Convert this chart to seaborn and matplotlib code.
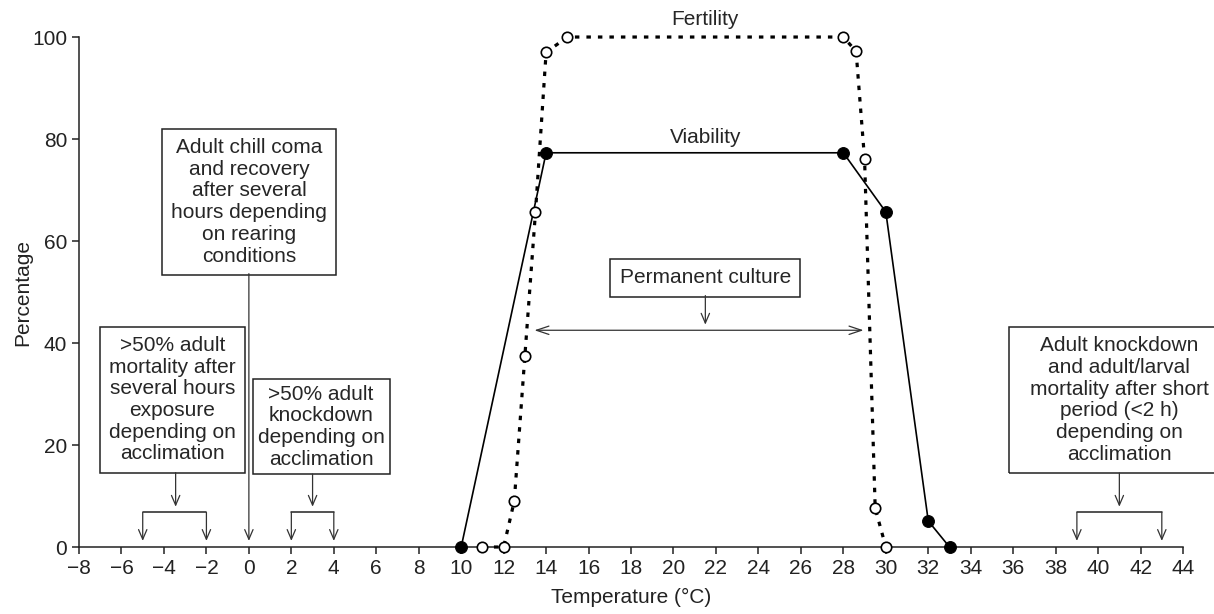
import matplotlib
matplotlib.use("Agg")
import matplotlib.pyplot as plt
from matplotlib.patches import Rectangle
import seaborn as sns

# data
viab_temp = [10, 14, 28, 30, 32, 33]
viab_pct = [0, 77.3, 77.3, 65.7, 5.1, 0]
fert_temp = [11, 12, 12.5, 13, 13.5, 14, 15, 28, 28.6, 29, 29.5, 30]
fert_pct = [0, 0, 9, 37.5, 65.7, 97, 100, 100, 97.2, 76, 7.6, 0]

x_ticks = list(range(-8, 45, 2))
y_ticks = [0, 20, 40, 60, 80, 100]

sns.set_style("ticks")
plt.rcParams['font.family'] = ['Liberation Sans', 'DejaVu Sans']
plt.rcParams['axes.edgecolor'] = '#222222'
plt.rcParams['axes.linewidth'] = 1.1

fig = plt.figure(figsize=(12.14, 6.14), dpi=100)
ax = fig.add_axes([0.0651, 0.1091, 0.9094, 0.8306])

sns.lineplot(x=viab_temp, y=viab_pct, ax=ax, sort=False, estimator=None,
             color='black', lw=1.2, marker='o', markersize=8.5,
             markerfacecolor='black', markeredgecolor='black', clip_on=False, zorder=4)
sns.lineplot(x=fert_temp, y=fert_pct, ax=ax, sort=False, estimator=None,
             color='black', lw=2.3, linestyle=(0, (1.4, 2.2)), marker='o', markersize=7.5,
             markerfacecolor='white', markeredgecolor='black', markeredgewidth=1.2,
             clip_on=False, zorder=5)

ax.set_xlim(-8, 44)
ax.set_ylim(0, 100)
ax.set_xticks(x_ticks)
ax.set_yticks(y_ticks)
ax.tick_params(labelsize=15, length=5, width=1.1, colors='#222222')
ax.set_xlabel('Temperature (°C)', fontsize=15, color='#222222', labelpad=7)
ax.set_ylabel('Percentage', fontsize=15, color='#222222', labelpad=0)
sns.despine(ax=ax)

fs = 15
ls = 1.18
box = dict(boxstyle='square,pad=0.45', fc='white', ec='#222222', lw=1.1)
arr = dict(arrowstyle='->,head_length=0.7,head_width=0.3', color='#333333', lw=0.9,
           shrinkA=0, shrinkB=0)
line_kw = dict(color='#222222', lw=1.1, clip_on=False)
rect_kw = dict(fill=False, ec='#222222', lw=1.1, clip_on=False)

ax.text(21.5, 103.5, 'Fertility', ha='center', va='center', fontsize=fs)
ax.text(21.5, 80.3, 'Viability', ha='center', va='center', fontsize=fs)

# permanent culture
ax.text(21.5, 52.8, 'Permanent culture', ha='center', va='center', fontsize=fs, bbox=box)
ax.annotate('', xy=(21.5, 43.6), xytext=(21.5, 49.3), arrowprops=arr)
ax.annotate('', xy=(13.45, 42.5), xytext=(28.95, 42.5),
            arrowprops=dict(arr, arrowstyle='<->,head_length=0.9,head_width=0.3'))

# chill coma
ax.text(0, 67.7, 'Adult chill coma\nand recovery\nafter several\nhours depending\non rearing\nconditions',
        ha='center', va='center', fontsize=fs, bbox=box, linespacing=ls)
ax.annotate('', xy=(0, 1.2), xytext=(0, 53.6), arrowprops=arr)

# cold mortality
ax.text(-3.6, 28.9, '>50% adult\nmortality after\nseveral hours\nexposure\ndepending on\nacclimation',
        ha='center', va='center', fontsize=fs, bbox=box, linespacing=ls)
ax.annotate('', xy=(-3.45, 7.9), xytext=(-3.45, 14.6), arrowprops=arr)
ax.plot([-5, -2], [6.8, 6.8], **line_kw)
ax.annotate('', xy=(-5, 1.2), xytext=(-5, 6.8), arrowprops=arr)
ax.annotate('', xy=(-2, 1.2), xytext=(-2, 6.8), arrowprops=arr)

# cold knockdown
ax.add_patch(Rectangle((0.2, 14.3), 6.45, 18.6, **rect_kw))
ax.text(3.4, 23.6, '>50% adult\nknockdown\ndepending on\nacclimation',
        ha='center', va='center', fontsize=fs, linespacing=ls)
ax.annotate('', xy=(3, 7.9), xytext=(3, 14.3), arrowprops=arr)
ax.plot([2, 4], [6.8, 6.8], **line_kw)
ax.annotate('', xy=(2, 1.2), xytext=(2, 6.8), arrowprops=arr)
ax.annotate('', xy=(4, 1.2), xytext=(4, 6.8), arrowprops=arr)

# heat knockdown
ax.add_patch(Rectangle((35.8, 14.5), 12, 28.6, **rect_kw))
ax.text(41, 28.8, 'Adult knockdown\nand adult/larval\nmortality after short\nperiod (<2 h)\ndepending on\nacclimation',
        ha='center', va='center', fontsize=fs, linespacing=ls, clip_on=False)
ax.annotate('', xy=(41, 7.9), xytext=(41, 14.5), arrowprops=arr)
ax.plot([39, 43], [6.8, 6.8], **line_kw)
ax.annotate('', xy=(39, 1.2), xytext=(39, 6.8), arrowprops=arr)
ax.annotate('', xy=(43, 1.2), xytext=(43, 6.8), arrowprops=arr)

fig.savefig('out.png', dpi=100)
